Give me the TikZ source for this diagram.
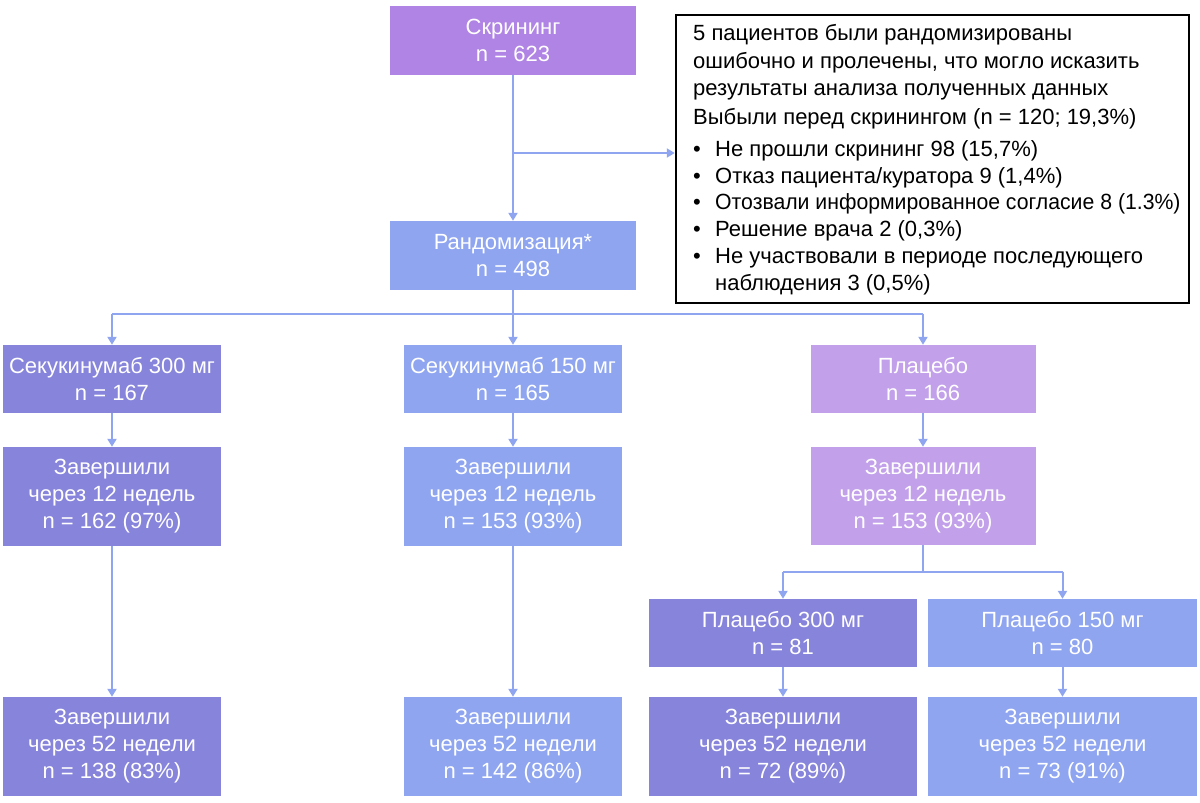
\documentclass[tikz,border=0pt]{standalone}
\usepackage{fontspec}
\setmainfont{Liberation Sans}
\usetikzlibrary{arrows.meta}
\definecolor{cscr}{RGB}{176,132,228}
\definecolor{clight}{RGB}{143,165,240}
\definecolor{cdark}{RGB}{135,132,219}
\definecolor{cplac}{RGB}{194,160,234}
\definecolor{cline}{RGB}{143,165,240}
\tikzset{
  box/.style={fill=#1, text=white, inner sep=0pt, align=center,
    font=\fontsize{22}{27}\selectfont},
  bw/.style={minimum width=218pt},
  bh2/.style={minimum height=68pt},
  bh3/.style={minimum height=99pt},
  conn/.style={draw=cline, line width=2pt},
  arr/.style={conn, -{Triangle[width=9pt,length=8pt]}},
  notetxt/.style={anchor=base west, inner sep=0pt, font=\fontsize{22}{27}\selectfont},
}
\begin{document}
\begin{tikzpicture}[x=1pt,y=-1pt]
\useasboundingbox (0,0) rectangle (1200,803);
% boxes
\node[box=cscr, minimum width=246pt, minimum height=69pt] (scr) at (513,40.5) {Скрининг\\n = 623};
\node[box=clight, minimum width=246pt, minimum height=69pt] (rand) at (513,255.5) {Рандомизация*\\n = 498};
\node[draw=black, line width=2.5pt, minimum width=513pt, minimum height=288pt, inner sep=0pt] (note) at (932.5,159) {};
\node[box=cdark, bw, bh2] (s300) at (112,379) {Секукинумаб 300 мг\\n = 167};
\node[box=clight, bw, bh2] (s150) at (513,379) {Секукинумаб 150 мг\\n = 165};
\node[box=cplac, minimum width=225pt, bh2] (pl) at (923,379) {Плацебо\\n = 166};
\node[box=cdark, bw, bh3] (c12a) at (112,496.5) {Завершили\\через 12 недель\\n = 162 (97\%)};
\node[box=clight, bw, bh3] (c12b) at (513,496.5) {Завершили\\через 12 недель\\n = 153 (93\%)};
\node[box=cplac, minimum width=225pt, minimum height=98pt] (c12c) at (923,496) {Завершили\\через 12 недель\\n = 153 (93\%)};
\node[box=cdark, minimum width=268pt, bh2] (p300) at (783,633) {Плацебо 300 мг\\n = 81};
\node[box=clight, minimum width=269pt, bh2] (p150) at (1062.5,633) {Плацебо 150 мг\\n = 80};
\node[box=cdark, bw, bh3] (c52a) at (112,746.5) {Завершили\\через 52 недели\\n = 138 (83\%)};
\node[box=clight, bw, bh3] (c52b) at (513,746.5) {Завершили\\через 52 недели\\n = 142 (86\%)};
\node[box=cdark, minimum width=268pt, bh3] (c52c) at (783,746.5) {Завершили\\через 52 недели\\n = 72 (89\%)};
\node[box=clight, minimum width=269pt, bh3] (c52d) at (1062.5,746.5) {Завершили\\через 52 недели\\n = 73 (91\%)};
% note text
\node[notetxt] (n1) at (693,40) {5 пациентов были рандомизированы};
\node[notetxt] (n2) at (693,68) {ошибочно и пролечены, что могло исказить};
\node[notetxt] (n3) at (693,95) {результаты анализа полученных данных};
\node[notetxt] (n4) at (693,124) {Выбыли перед скринингом (n = 120; 19,3\%)};
\node[notetxt] (n5) at (693,156) {\makebox[22pt][l]{•}Не прошли скрининг 98 (15,7\%)};
\node[notetxt] (n6) at (693,183) {\makebox[22pt][l]{•}Отказ пациента/куратора 9 (1,4\%)};
\node[notetxt] (n7) at (693,209) {\makebox[22pt][l]{•}\scalebox{0.965}[1]{Отозвали информированное согласие 8 (1.3\%)}};
\node[notetxt] (n8) at (693,236) {\makebox[22pt][l]{•}Решение врача 2 (0,3\%)};
\node[notetxt] (n9) at (693,263) {\makebox[22pt][l]{•}Не участвовали в периоде последующего};
\node[notetxt] (n10) at (715,290) {наблюдения 3 (0,5\%)};
% junctions
\coordinate (j1) at (513,153);
\coordinate (j2) at (513,314);
\coordinate (j3) at (923,572);
% connectors
\draw[arr] (scr.south) -- (rand.north);
\draw[arr] (j1) -- (j1 -| note.west);
\draw[conn] (rand.south) -- (j2);
\draw[conn] (j2 -| s300.north) -- (j2 -| pl.north);
\draw[arr] (j2 -| s300.north) -- (s300.north);
\draw[arr] (j2) -- (s150.north);
\draw[arr] (j2 -| pl.north) -- (pl.north);
\draw[arr] (s300.south) -- (c12a.north);
\draw[arr] (s150.south) -- (c12b.north);
\draw[arr] (pl.south) -- (c12c.north);
\draw[arr] (c12a.south) -- (c52a.north);
\draw[arr] (c12b.south) -- (c52b.north);
\draw[conn] (c12c.south) -- (j3);
\draw[conn] (j3 -| p300.north) -- (j3 -| p150.north);
\draw[arr] (j3 -| p300.north) -- (p300.north);
\draw[arr] (j3 -| p150.north) -- (p150.north);
\draw[arr] (p300.south) -- (c52c.north);
\draw[arr] (p150.south) -- (c52d.north);
\end{tikzpicture}
\end{document}
